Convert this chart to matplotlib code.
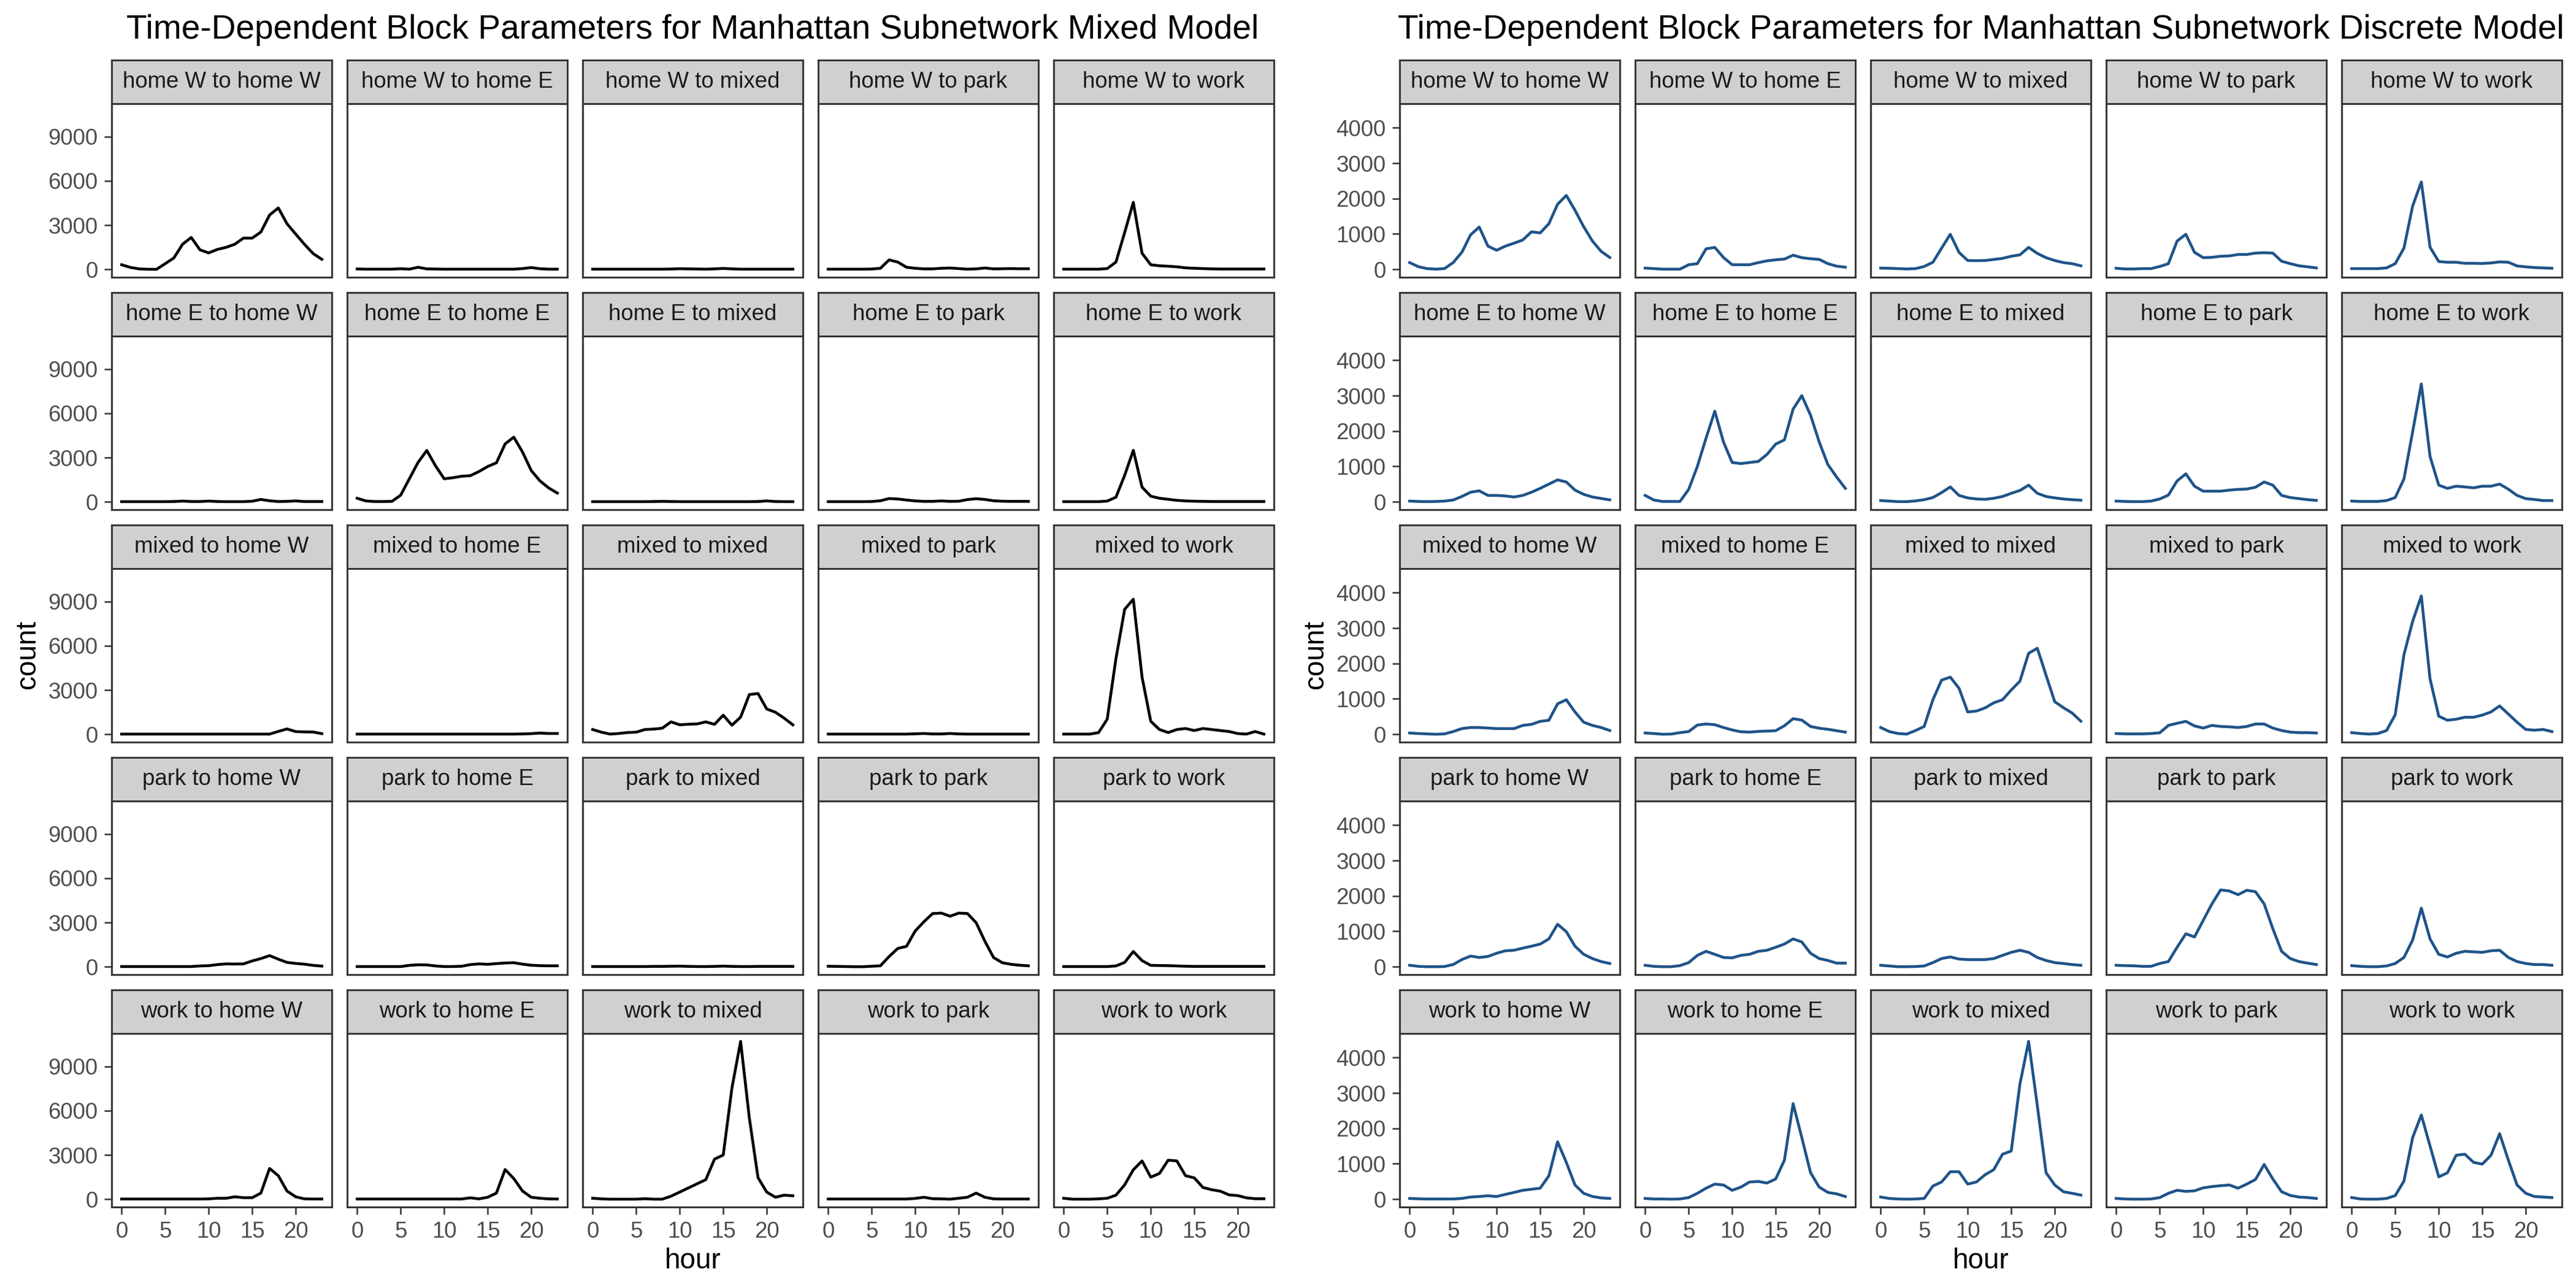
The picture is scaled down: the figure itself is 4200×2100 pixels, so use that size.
import numpy as np
import matplotlib
matplotlib.use("Agg")
import matplotlib.pyplot as plt

plt.rcParams['font.family'] = ['Liberation Sans', 'DejaVu Sans']

hours = list(range(24))
zones = ["home W", "home E", "mixed", "park", "work"]

# ---- mixed model: counts per hour, origin -> destination ----
mx_hW_hW = [320, 140, 40, 15, 10, 390, 780, 1710, 2170, 1330, 1125, 1360, 1500, 1710, 2125, 2125, 2540, 3690, 4170, 3100, 2400, 1710, 1080, 690]
mx_hW_hE = [35, 20, 20, 20, 20, 50, 20, 150, 40, 30, 20, 20, 20, 20, 20, 20, 20, 20, 20, 60, 130, 50, 20, 20]
mx_hW_mix = [20, 20, 20, 20, 20, 20, 20, 20, 20, 30, 50, 40, 30, 20, 40, 70, 40, 20, 20, 20, 20, 20, 20, 20]
mx_hW_park = [20, 20, 20, 20, 20, 30, 80, 650, 500, 150, 80, 40, 40, 80, 100, 60, 20, 40, 100, 40, 50, 60, 50, 50]
mx_hW_work = [20, 20, 20, 20, 20, 60, 500, 2500, 4550, 1100, 320, 250, 220, 180, 110, 80, 60, 40, 30, 30, 30, 30, 30, 30]

mx_hE_hW = [20, 20, 20, 20, 20, 20, 30, 60, 30, 30, 60, 30, 20, 20, 20, 50, 170, 80, 30, 40, 70, 30, 30, 30]
mx_hE_hE = [250, 70, 30, 30, 40, 460, 1570, 2680, 3490, 2450, 1570, 1640, 1740, 1780, 2060, 2400, 2650, 3930, 4390, 3380, 2130, 1430, 950, 600]
mx_hE_mix = [20, 20, 20, 20, 20, 20, 20, 30, 40, 30, 20, 20, 20, 20, 20, 20, 20, 20, 20, 30, 70, 30, 20, 20]
mx_hE_park = [20, 20, 20, 20, 20, 30, 80, 230, 200, 130, 70, 40, 40, 70, 40, 50, 160, 220, 170, 80, 50, 40, 40, 40]
mx_hE_work = [20, 20, 20, 20, 20, 60, 320, 1800, 3500, 1000, 390, 250, 180, 110, 70, 50, 40, 30, 30, 30, 30, 30, 30, 30]

mx_mix_hW = [20, 20, 20, 20, 20, 20, 20, 20, 20, 20, 20, 20, 20, 20, 20, 20, 20, 20, 200, 370, 190, 170, 160, 50]
mx_mix_hE = [20, 20, 20, 20, 20, 20, 20, 20, 20, 20, 20, 20, 20, 20, 20, 20, 20, 20, 20, 30, 50, 90, 60, 60]
mx_mix_mix = [330, 150, 20, 60, 125, 150, 330, 360, 420, 850, 650, 690, 710, 850, 680, 1300, 620, 1170, 2700, 2770, 1720, 1500, 1100, 650]
mx_mix_park = [20, 20, 20, 20, 20, 20, 20, 20, 20, 20, 40, 60, 30, 30, 60, 30, 20, 20, 20, 20, 20, 20, 20, 20]
mx_mix_work = [20, 20, 20, 20, 120, 1030, 5130, 8470, 9160, 3880, 890, 330, 125, 330, 400, 260, 400, 330, 260, 195, 55, 20, 195, 20]

mx_park_hW = [20, 20, 20, 20, 20, 20, 20, 20, 20, 60, 80, 150, 200, 190, 200, 400, 560, 760, 520, 300, 230, 180, 100, 50]
mx_park_hE = [20, 20, 20, 20, 20, 20, 100, 140, 130, 60, 20, 20, 40, 150, 200, 170, 220, 260, 280, 180, 110, 80, 70, 70]
mx_park_mix = [20, 20, 20, 20, 20, 20, 20, 30, 30, 40, 50, 30, 20, 20, 30, 50, 30, 20, 20, 30, 30, 30, 30, 30]
mx_park_park = [40, 30, 20, 10, 10, 40, 70, 700, 1250, 1390, 2430, 3060, 3610, 3640, 3430, 3640, 3610, 2990, 1740, 630, 280, 170, 110, 70]
mx_park_work = [20, 20, 20, 20, 20, 20, 60, 300, 1040, 420, 100, 90, 80, 60, 40, 30, 30, 30, 30, 30, 30, 30, 30, 30]

mx_work_hW = [20, 20, 20, 20, 20, 20, 20, 20, 20, 20, 30, 70, 70, 170, 110, 110, 420, 2090, 1600, 560, 170, 30, 20, 20]
mx_work_hE = [20, 20, 20, 20, 20, 20, 20, 20, 20, 20, 20, 20, 20, 100, 30, 140, 420, 2020, 1400, 560, 140, 70, 30, 20]
mx_work_mix = [70, 30, 10, 10, 10, 10, 40, 10, 10, 210, 490, 770, 1050, 1330, 2720, 3000, 7530, 10700, 5500, 1465, 490, 140, 280, 240]
mx_work_park = [20, 20, 20, 20, 20, 20, 20, 20, 20, 20, 60, 140, 40, 30, 10, 70, 140, 420, 140, 30, 20, 20, 20, 20]
mx_work_work = [70, 10, 10, 10, 30, 70, 280, 980, 2000, 2600, 1500, 1750, 2650, 2600, 1600, 1450, 800, 650, 550, 300, 250, 100, 40, 40]

# ---- discrete model ----
ds_hW_hW = [190, 75, 20, 5, 20, 190, 480, 975, 1195, 655, 540, 655, 740, 830, 1060, 1030, 1290, 1840, 2090, 1670, 1205, 800, 510, 335]
ds_hW_hE = [35, 20, 5, 5, 5, 130, 160, 580, 620, 335, 130, 130, 130, 190, 240, 270, 290, 400, 330, 300, 280, 160, 90, 60]
ds_hW_mix = [35, 30, 20, 10, 20, 80, 200, 600, 990, 480, 250, 245, 250, 280, 310, 370, 410, 620, 450, 330, 250, 190, 160, 100]
ds_hW_park = [30, 10, 10, 20, 20, 80, 160, 800, 990, 480, 330, 340, 370, 380, 420, 420, 460, 470, 460, 230, 160, 100, 70, 40]
ds_hW_work = [20, 20, 20, 20, 40, 160, 600, 1790, 2470, 625, 220, 200, 200, 170, 170, 165, 180, 210, 200, 95, 70, 50, 40, 30]

ds_hE_hW = [20, 10, 5, 10, 20, 50, 150, 270, 310, 180, 180, 165, 135, 180, 270, 380, 500, 620, 560, 330, 210, 135, 95, 55]
ds_hE_hE = [180, 50, 10, 10, 10, 350, 1000, 1800, 2560, 1690, 1110, 1080, 1110, 1140, 1340, 1630, 1750, 2620, 3000, 2450, 1690, 1050, 700, 380]
ds_hE_mix = [35, 20, 5, 5, 25, 60, 120, 260, 420, 180, 110, 80, 70, 100, 150, 240, 320, 470, 240, 150, 110, 80, 60, 45]
ds_hE_park = [20, 10, 5, 5, 20, 80, 190, 590, 790, 440, 300, 300, 300, 330, 350, 360, 410, 560, 470, 180, 120, 90, 60, 40]
ds_hE_work = [20, 10, 10, 10, 35, 120, 645, 1980, 3330, 1280, 470, 380, 440, 420, 395, 440, 440, 500, 355, 180, 90, 65, 35, 35]

ds_mix_hW = [35, 20, 10, 0, 10, 75, 160, 190, 190, 175, 160, 160, 160, 250, 280, 365, 395, 860, 975, 630, 340, 250, 190, 105]
ds_mix_hE = [35, 20, 0, 5, 45, 75, 260, 290, 270, 190, 120, 70, 60, 80, 90, 100, 240, 440, 400, 220, 170, 140, 100, 60]
ds_mix_mix = [190, 75, 20, 5, 105, 220, 975, 1530, 1615, 1300, 630, 655, 745, 890, 975, 1250, 1500, 2290, 2430, 1670, 920, 750, 600, 370]
ds_mix_park = [20, 10, 10, 10, 20, 40, 250, 310, 365, 235, 175, 250, 220, 210, 190, 220, 290, 290, 175, 105, 60, 45, 45, 35]
ds_mix_work = [45, 20, 5, 20, 105, 550, 2250, 3190, 3910, 1560, 510, 395, 425, 480, 480, 540, 630, 800, 570, 340, 135, 115, 135, 75]

ds_park_hW = [40, 10, 0, 0, 5, 60, 200, 300, 260, 290, 380, 450, 465, 525, 580, 640, 785, 1200, 990, 580, 350, 230, 145, 90]
ds_park_hE = [40, 10, 0, 0, 30, 115, 320, 435, 350, 260, 250, 320, 350, 435, 465, 550, 640, 785, 700, 380, 230, 175, 100, 100]
ds_park_mix = [40, 20, 0, 0, 5, 20, 115, 230, 275, 215, 200, 200, 200, 230, 320, 405, 465, 405, 260, 175, 115, 90, 60, 40]
ds_park_park = [40, 30, 25, 10, 10, 90, 145, 550, 930, 840, 1310, 1775, 2170, 2140, 2035, 2160, 2120, 1775, 1075, 435, 230, 145, 100, 60]
ds_park_work = [30, 10, 0, 0, 20, 90, 260, 755, 1655, 785, 350, 275, 380, 435, 420, 405, 450, 465, 260, 145, 90, 60, 60, 40]

ds_work_hW = [20, 10, 5, 5, 5, 5, 20, 60, 75, 95, 75, 135, 190, 250, 280, 310, 660, 1620, 1040, 400, 165, 75, 35, 20]
ds_work_hE = [20, 5, 5, 0, 5, 45, 165, 310, 425, 400, 250, 340, 485, 500, 455, 570, 1100, 2700, 1740, 750, 340, 190, 150, 75]
ds_work_mix = [60, 20, 5, 0, 5, 20, 370, 485, 775, 775, 425, 485, 690, 835, 1270, 1360, 3250, 4460, 2640, 750, 400, 210, 165, 115]
ds_work_park = [20, 5, 0, 0, 5, 45, 165, 250, 220, 235, 320, 355, 380, 400, 310, 425, 555, 980, 570, 210, 105, 60, 45, 20]
ds_work_work = [45, 5, 0, 0, 20, 100, 510, 1740, 2380, 1500, 630, 745, 1240, 1270, 1040, 990, 1240, 1850, 1100, 400, 165, 75, 60, 45]

mixed_rows = [
    [mx_hW_hW, mx_hW_hE, mx_hW_mix, mx_hW_park, mx_hW_work],
    [mx_hE_hW, mx_hE_hE, mx_hE_mix, mx_hE_park, mx_hE_work],
    [mx_mix_hW, mx_mix_hE, mx_mix_mix, mx_mix_park, mx_mix_work],
    [mx_park_hW, mx_park_hE, mx_park_mix, mx_park_park, mx_park_work],
    [mx_work_hW, mx_work_hE, mx_work_mix, mx_work_park, mx_work_work],
]
discrete_rows = [
    [ds_hW_hW, ds_hW_hE, ds_hW_mix, ds_hW_park, ds_hW_work],
    [ds_hE_hW, ds_hE_hE, ds_hE_mix, ds_hE_park, ds_hE_work],
    [ds_mix_hW, ds_mix_hE, ds_mix_mix, ds_mix_park, ds_mix_work],
    [ds_park_hW, ds_park_hE, ds_park_mix, ds_park_park, ds_park_work],
    [ds_work_hW, ds_work_hE, ds_work_mix, ds_work_park, ds_work_work],
]

W, H = 4200, 2100
fig = plt.figure(figsize=(14, 7), dpi=300)

border = '#333333'
strip_fill = '#D0D0D0'


def draw_model(x_off, rows, color, yticks, title):
    allv = np.concatenate([np.ravel(r) for r in rows])
    lo, hi = allv.min(), allv.max()
    pad = 0.05 * (hi - lo)
    for r in range(5):
        for c in range(5):
            left = (x_off + 182 + 384 * c) / W
            bottom = 1 - (169 + 379 * r + 283) / H
            ax = fig.add_axes([left, bottom, 359 / W, 283 / H])
            ax.plot(hours, rows[r][c], color=color, lw=1.1, solid_joinstyle='round')
            ax.set_xlim(-1.15, 24.15)
            ax.set_ylim(lo - pad, hi + pad)
            ax.set_xticks([0, 5, 10, 15, 20])
            ax.set_yticks(yticks)
            for s in ax.spines.values():
                s.set_color(border)
                s.set_linewidth(0.7)
            ax.tick_params(length=2.9, width=0.6, color=border, labelsize=8.8,
                           labelcolor='#4D4D4D', pad=2.5)
            if c != 0:
                ax.tick_params(axis='y', length=0, labelleft=False)
            if r != 4:
                ax.tick_params(axis='x', length=0, labelbottom=False)

            sax = fig.add_axes([left, 1 - (98 + 379 * r + 71) / H, 359 / W, 71 / H])
            sax.set_facecolor(strip_fill)
            sax.set_xticks([])
            sax.set_yticks([])
            for s in sax.spines.values():
                s.set_color(border)
                s.set_linewidth(0.7)
            sax.text(0.5, 0.5, f"{zones[r]} to {zones[c]}", ha='center', va='center',
                     fontsize=8.8, color='#1A1A1A', transform=sax.transAxes)

    cx = (2 * x_off + 182 + 2077) / 2 / W
    fig.text(cx, 1 - 63 / H, title, ha='center', va='baseline', fontsize=13.2)
    fig.text(cx, 1 - 2068 / H, "hour", ha='center', va='baseline', fontsize=11)
    fig.text((x_off + 45) / W, 1 - 1067 / H, "count", ha='center', va='center',
             rotation=90, fontsize=11)


draw_model(0, mixed_rows, 'black', [0, 3000, 6000, 9000],
           "Time-Dependent Block Parameters for Manhattan Subnetwork Mixed Model")
draw_model(2100, discrete_rows, '#1F5389', [0, 1000, 2000, 3000, 4000],
           "Time-Dependent Block Parameters for Manhattan Subnetwork Discrete Model")

fig.savefig("out.png", dpi=300, facecolor='white')
